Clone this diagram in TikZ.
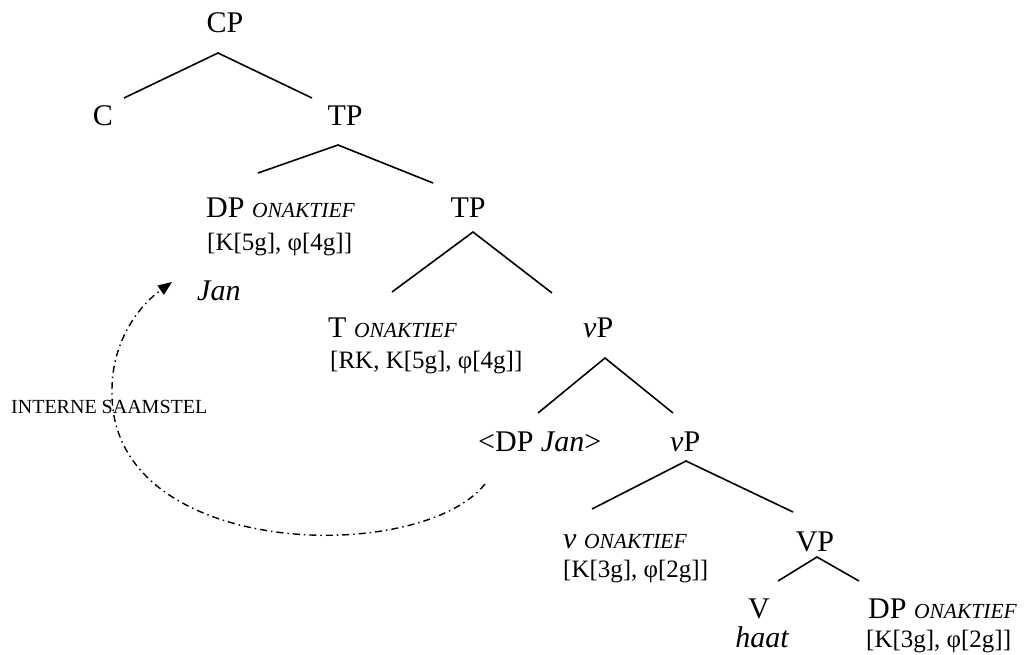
\documentclass[tikz,border=0pt]{standalone}
\usepackage{fontspec}
\setmainfont{Liberation Serif}
\usetikzlibrary{arrows.meta}
\newcommand{\onak}{{\fontsize{21.5}{25}\selectfont\itshape ONAKTIEF}}
\begin{document}
\begin{tikzpicture}[x=1pt,y=-1pt,
  lab/.style={inner sep=0pt, font=\fontsize{30}{34}\selectfont},
  feat/.style={inner sep=0pt, font=\fontsize{25}{29}\selectfont},
  note/.style={inner sep=0pt, font=\fontsize{20}{24}\selectfont},
  branch/.style={line width=1.6pt},
  move/.style={line width=1.4pt, dash pattern=on 7pt off 4pt on 1.5pt off 4pt,
    -{Triangle[length=14pt,width=11pt]}}
]
\useasboundingbox (0,0) rectangle (1027,655);

% labels
\node[lab, anchor=base] (cp) at (225,33) {CP};
\node[lab, anchor=base] (c) at (103,126) {C};
\node[lab, anchor=base] (tp1) at (345,126) {TP};
\node[lab, anchor=base west] (dp1) at (206,217) {DP \onak};
\node[feat, anchor=base west] (f1) at (207,250) {[K[5g], φ[4g]]};
\node[lab, anchor=base west] (jan) at (197,300) {\itshape Jan};
\node[lab, anchor=base] (tp2) at (468,217) {TP};
\node[lab, anchor=base west] (t) at (328,337) {T \onak};
\node[feat, anchor=base west] (f2) at (330,368) {[RK, K[5g], φ[4g]]};
\node[lab, anchor=base west] (vp1) at (583,337) {\itshape v\upshape P};
\node[lab, anchor=base west] (dpjan) at (478,451) {<DP \itshape Jan\upshape >};
\node[lab, anchor=base west] (vp2) at (670,451) {\itshape v\upshape P};
\node[lab, anchor=base west] (v) at (563,548) {\itshape v \upshape\onak};
\node[feat, anchor=base west] (f3) at (563,577) {[K[3g], φ[2g]]};
\node[lab, anchor=base] (vp) at (815,551) {VP};
\node[lab, anchor=base] (vv) at (759,618) {V};
\node[lab, anchor=base] (haat) at (762,647) {\itshape haat};
\node[lab, anchor=base west] (dp3) at (868,618) {DP \onak};
\node[feat, anchor=base west] (f4) at (866,647) {[K[3g], φ[2g]]};
\node[note, anchor=base west] (is) at (11,413) {INTERNE SAAMSTEL};

% branch points
\coordinate (a1) at (218,53);  \coordinate (a1l) at (124,98);  \coordinate (a1r) at (312,98);
\coordinate (a2) at (338,145); \coordinate (a2l) at (258,173); \coordinate (a2r) at (433,183);
\coordinate (a3) at (473,232); \coordinate (a3l) at (392,292); \coordinate (a3r) at (552,293);
\coordinate (a4) at (605,358); \coordinate (a4l) at (538,413); \coordinate (a4r) at (673,413);
\coordinate (a5) at (686,461); \coordinate (a5l) at (592,509); \coordinate (a5r) at (793,512);
\coordinate (a6) at (817,557); \coordinate (a6l) at (778,581); \coordinate (a6r) at (859,581);

\draw[branch] (a1l) -- (a1) -- (a1r);
\draw[branch] (a2l) -- (a2) -- (a2r);
\draw[branch] (a3l) -- (a3) -- (a3r);
\draw[branch] (a4l) -- (a4) -- (a4r);
\draw[branch] (a5l) -- (a5) -- (a5r);
\draw[branch] (a6l) -- (a6) -- (a6r);

% movement arrow
\coordinate (mvstart) at (485,484);
\coordinate (mvleft) at (112,390);
\coordinate (tip) at (172,282);
\draw[move] (mvstart) .. controls (420,566) and (108,560) .. (mvleft)
  .. controls (112,340) and (140,305) .. (tip);
\end{tikzpicture}
\end{document}
